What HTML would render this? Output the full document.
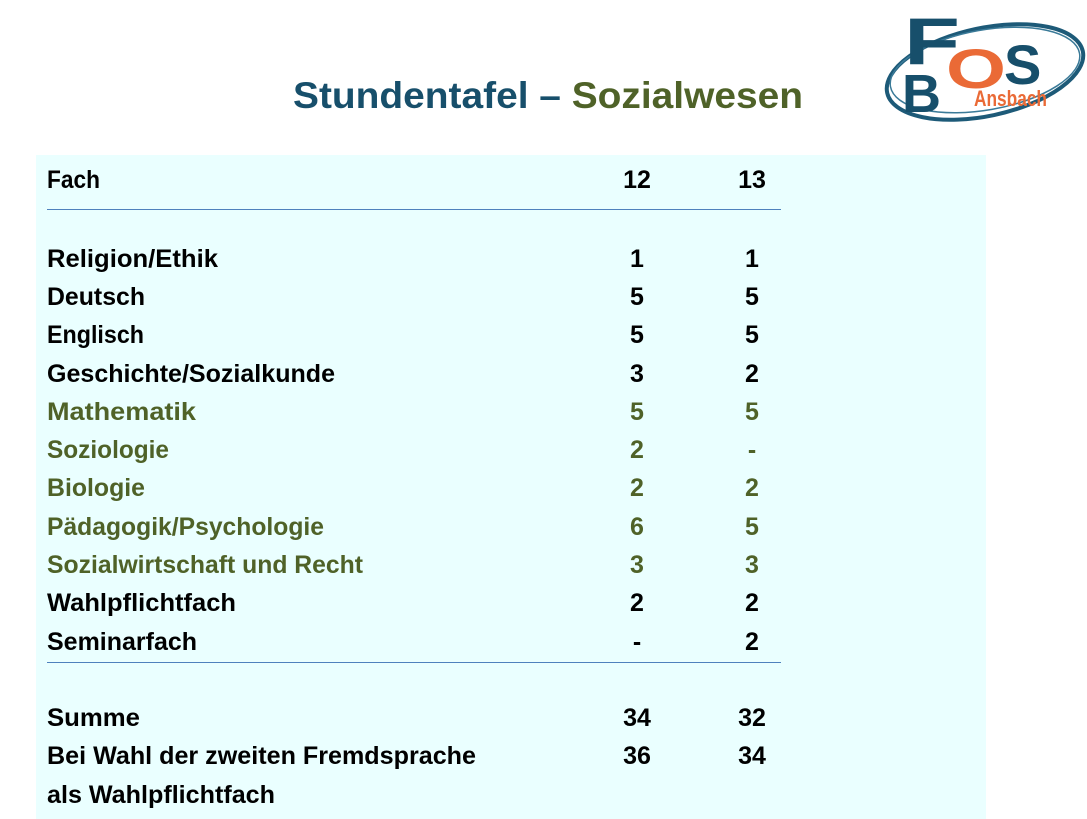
<!DOCTYPE html>
<html><head><meta charset="utf-8"><style>
html,body{margin:0;padding:0;background:#fff;}
svg{display:block;}
text{font-family:"Liberation Sans",sans-serif;font-weight:bold;}
</style></head><body>
<svg width="1087" height="819" viewBox="0 0 1087 819" xmlns="http://www.w3.org/2000/svg">
<rect x="36" y="155" width="950" height="664" fill="#eaffff"/>
<text x="293" y="108" font-size="37" textLength="510" lengthAdjust="spacingAndGlyphs"><tspan fill="#174f6b">Stundentafel – </tspan><tspan fill="#4f6228">Sozialwesen</tspan></text>
<!-- logo -->
<g>
<ellipse cx="985" cy="72" rx="100" ry="44" transform="rotate(-12 985 72)" fill="none" stroke="#1d5a78" stroke-width="4"/>
<ellipse cx="985" cy="70" rx="96" ry="40" transform="rotate(-10 985 70)" fill="none" stroke="#3a7a98" stroke-width="1.5"/>
<text x="904" y="64" font-size="66" fill="#174f6b" textLength="56" lengthAdjust="spacingAndGlyphs">F</text>
<text x="946" y="88" font-size="56" fill="#ea6a36" textLength="60" lengthAdjust="spacingAndGlyphs">O</text>
<text x="1004" y="84" font-size="56" fill="#174f6b">S</text>
<text x="902" y="112" font-size="54" fill="#174f6b">B</text>
<text x="974" y="106" font-size="22" fill="#ea6a36" textLength="73" lengthAdjust="spacingAndGlyphs">Ansbach</text>
</g>
<line x1="47" y1="209.5" x2="781" y2="209.5" stroke="#4f81bd" stroke-width="1"/>
<line x1="47" y1="662.5" x2="781" y2="662.5" stroke="#4f81bd" stroke-width="1"/>
<g font-size="25">
<text x="47" y="188" textLength="53" lengthAdjust="spacingAndGlyphs" fill="#000">Fach</text>
<text x="637" y="188" text-anchor="middle" fill="#000">12</text>
<text x="752" y="188" text-anchor="middle" fill="#000">13</text>

<g fill="#000">
<text x="47" y="267" textLength="171" lengthAdjust="spacingAndGlyphs">Religion/Ethik</text>
<text x="47" y="305" textLength="98" lengthAdjust="spacingAndGlyphs">Deutsch</text>
<text x="47" y="343" textLength="97" lengthAdjust="spacingAndGlyphs">Englisch</text>
<text x="47" y="382" textLength="288" lengthAdjust="spacingAndGlyphs">Geschichte/Sozialkunde</text>
<text x="47" y="611" textLength="189" lengthAdjust="spacingAndGlyphs">Wahlpflichtfach</text>
<text x="47" y="650" textLength="150" lengthAdjust="spacingAndGlyphs">Seminarfach</text>
<text x="47" y="726" textLength="93" lengthAdjust="spacingAndGlyphs">Summe</text>
<text x="47" y="764" textLength="429" lengthAdjust="spacingAndGlyphs">Bei Wahl der zweiten Fremdsprache</text>
<text x="47" y="803" textLength="228" lengthAdjust="spacingAndGlyphs">als Wahlpflichtfach</text>
</g>
<g fill="#4f6228">
<text x="47" y="420" textLength="149" lengthAdjust="spacingAndGlyphs">Mathematik</text>
<text x="47" y="458" textLength="122" lengthAdjust="spacingAndGlyphs">Soziologie</text>
<text x="47" y="496" textLength="98" lengthAdjust="spacingAndGlyphs">Biologie</text>
<text x="47" y="535" textLength="277" lengthAdjust="spacingAndGlyphs">Pädagogik/Psychologie</text>
<text x="47" y="573" textLength="316" lengthAdjust="spacingAndGlyphs">Sozialwirtschaft und Recht</text>
</g>
<g text-anchor="middle" fill="#000">
<text x="637" y="267">1</text><text x="752" y="267">1</text>
<text x="637" y="305">5</text><text x="752" y="305">5</text>
<text x="637" y="343">5</text><text x="752" y="343">5</text>
<text x="637" y="382">3</text><text x="752" y="382">2</text>
<text x="637" y="611">2</text><text x="752" y="611">2</text>
<text x="637" y="650">-</text><text x="752" y="650">2</text>
<text x="637" y="726">34</text><text x="752" y="726">32</text>
<text x="637" y="764">36</text><text x="752" y="764">34</text>
</g>
<g text-anchor="middle" fill="#4f6228">
<text x="637" y="420">5</text><text x="752" y="420">5</text>
<text x="637" y="458">2</text><text x="752" y="458">-</text>
<text x="637" y="496">2</text><text x="752" y="496">2</text>
<text x="637" y="535">6</text><text x="752" y="535">5</text>
<text x="637" y="573">3</text><text x="752" y="573">3</text>
</g>
</g>
</svg>
</body></html>
